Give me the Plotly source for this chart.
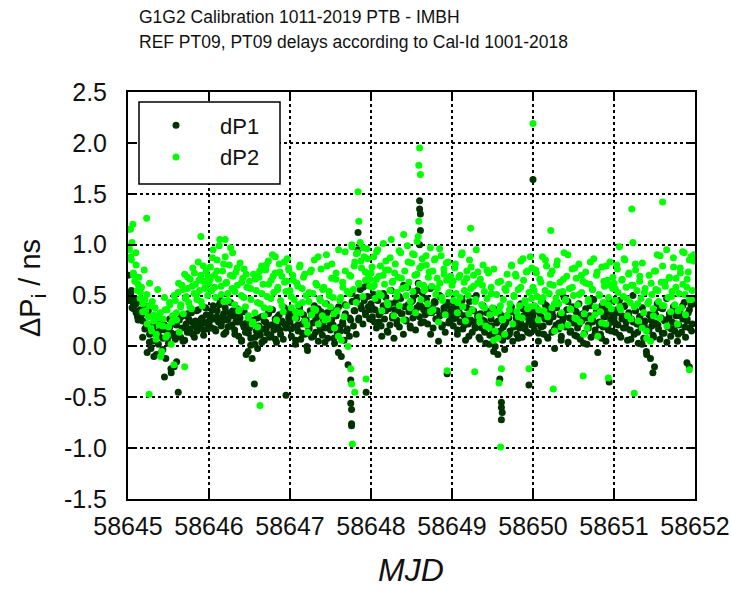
import plotly.graph_objects as go

# ---------------- data ----------------
START_MJD = 58645

# bulk values, layer A: 60 epochs per day (one list per day)
dp1_days = [
    [0.70, 0.45, 0.52, 0.38, 0.41, 0.47, 0.33, 0.29, 0.44, 0.36,
     0.31, 0.25, 0.40, 0.18, 0.22, 0.35, 0.12, -0.02, 0.05, 0.20,
     0.14, -0.08, 0.28, 0.10, 0.16, -0.05, 0.08, 0.21, -0.12, 0.15,
     0.03, 0.19, -0.26, 0.11, 0.24, 0.07, -0.15, 0.13, 0.26, 0.09,
     0.18, 0.30, 0.06, 0.22, 0.14, 0.27, 0.17, 0.33, 0.12, 0.20,
     0.25, 0.15, 0.36, 0.21, 0.19, 0.28, 0.11, 0.23, 0.31, 0.17],
    [0.22, 0.31, 0.18, 0.40, 0.27, 0.15, 0.35, 0.24, 0.46, 0.20,
     0.29, 0.12, 0.38, 0.26, 0.19, 0.33, 0.43, 0.21, 0.30, 0.16,
     0.25, 0.37, 0.10, 0.28, 0.05, 0.22, 0.34, 0.14, 0.23, -0.05,
     0.18, 0.08, -0.12, 0.26, 0.02, 0.15, -0.02, 0.20, 0.11, 0.29,
     0.17, 0.06, 0.24, 0.13, 0.32, 0.09, 0.21, 0.36, 0.16, 0.27,
     0.04, 0.19, 0.31, 0.12, 0.25, 0.07, 0.22, 0.18, 0.34, 0.28],
    [0.24, 0.10, 0.33, 0.19, 0.02, 0.28, 0.15, 0.38, 0.07, 0.22,
     0.31, 0.12, 0.26, -0.04, 0.17, 0.35, 0.09, 0.23, 0.40, 0.14,
     0.29, 0.05, 0.20, 0.34, 0.11, 0.27, 0.18, 0.42, 0.08, 0.25,
     0.16, 0.36, 0.21, 0.03, 0.30, 0.13, 0.39, 0.19, -0.10, 0.24,
     0.06, 0.32, 0.15, -0.18, 0.10, 0.26, 0.44, 0.20, 0.35, 0.12,
     0.48, 0.28, 0.56, 0.37, 0.22, 0.45, 0.31, 0.60, 0.39, 0.27],
    [0.42, 0.29, 0.51, 0.36, 0.18, 0.45, 0.24, 0.33, 0.10, 0.40,
     0.27, 0.48, 0.15, 0.37, 0.21, 0.55, 0.30, 0.08, 0.43, 0.26,
     0.35, 0.19, 0.47, 0.32, 0.12, 0.39, 0.25, 0.58, 0.34, 0.20,
     0.44, 0.28, 0.50, 0.16, 0.38, 0.62, 0.41, 0.23, 0.53, 0.36,
     0.31, 0.46, 0.22, 0.40, 0.57, 0.33, 0.18, 0.44, 0.27, 0.35,
     0.05, 0.30, 0.48, 0.21, 0.38, 0.14, 0.32, 0.43, 0.25, 0.37],
    [0.33, 0.20, 0.41, 0.28, 0.12, 0.36, 0.24, 0.47, 0.17, 0.30,
     0.06, 0.38, 0.22, 0.44, 0.26, 0.14, 0.35, 0.19, 0.50, 0.29,
     0.09, 0.32, 0.18, 0.40, 0.25, 0.03, 0.21, 0.34, 0.11, 0.27,
     0.16, 0.37, 0.00, 0.23, -0.08, 0.13, 0.31, 0.07, 0.19, -0.03,
     0.24, 0.10, 0.28, 0.15, 0.39, 0.05, 0.22, 0.33, 0.12, 0.26,
     0.18, 0.42, 0.09, 0.30, 0.20, 0.35, 0.14, 0.25, 0.38, 0.21],
    [0.30, 0.16, 0.38, 0.22, 0.05, 0.33, 0.19, 0.45, 0.12, 0.27,
     0.40, 0.08, 0.24, 0.35, 0.14, 0.29, -0.02, 0.21, 0.43, 0.17,
     0.31, 0.10, 0.26, 0.48, 0.20, 0.36, 0.04, 0.28, 0.15, 0.39,
     0.23, 0.11, 0.34, 0.18, 0.42, 0.07, 0.25, 0.32, 0.13, 0.37,
     0.02, 0.21, 0.30, 0.09, 0.27, 0.46, 0.16, 0.35, -0.06, 0.24,
     0.12, 0.40, 0.19, 0.29, 0.05, 0.33, 0.22, 0.44, 0.15, 0.26],
    [0.28, 0.14, 0.36, 0.21, 0.45, 0.09, 0.30, 0.18, 0.40, 0.24,
     0.06, 0.33, 0.16, 0.27, 0.50, 0.12, 0.35, 0.22, 0.03, 0.29,
     0.19, 0.38, 0.08, 0.25, -0.05, 0.15, 0.31, -0.12, 0.20, 0.11,
     0.34, 0.23, 0.42, 0.17, 0.07, 0.28, 0.37, 0.13, 0.26, 0.47,
     0.19, 0.32, 0.10, 0.24, 0.39, 0.15, 0.30, 0.05, 0.21, 0.36,
     0.14, 0.27, 0.43, 0.09, 0.25, 0.33, 0.18, 0.41, 0.22, 0.46],
]

dp2_days = [
    [1.15, 0.95, 0.88, 1.02, 0.72, 0.64, 0.80, 0.55, 0.68, 0.47,
     0.58, 0.42, 0.75, 0.35, 0.51, 0.29, 0.62, 0.18, 0.44, 0.25,
     0.38, 0.12, 0.56, 0.21, 0.33, -0.05, 0.27, 0.48, 0.09, 0.36,
     0.19, 0.41, 0.02, 0.30, -0.18, 0.45, 0.26, 0.53, 0.14, 0.39,
     0.60, 0.32, 0.71, 0.49, 0.57, 0.43, 0.66, 0.37, 0.77, 0.52,
     0.61, 0.46, 0.83, 0.55, 0.70, 0.40, 0.64, 0.58, 0.74, 0.50],
    [0.62, 0.78, 0.55, 0.95, 0.70, 0.48, 0.85, 0.66, 1.05, 0.59,
     0.74, 0.44, 0.88, 0.63, 0.52, 0.80, 0.97, 0.57, 0.69, 0.41,
     0.73, 0.60, 0.35, 0.82, 0.50, 0.67, 0.76, 0.39, 0.58, 0.28,
     0.64, 0.46, 0.22, 0.71, 0.33, 0.55, 0.19, 0.68, 0.42, 0.79,
     0.61, 0.30, 0.75, 0.49, 0.84, 0.37, 0.65, 0.90, 0.53, 0.72,
     0.26, 0.58, 0.81, 0.45, 0.69, 0.34, 0.63, 0.54, 0.86, 0.77],
    [0.55, 0.38, 0.70, 0.46, 0.28, 0.62, 0.41, 0.78, 0.33, 0.57,
     0.68, 0.25, 0.50, 0.14, 0.44, 0.73, 0.31, 0.52, 0.85, 0.36,
     0.60, 0.22, 0.47, 0.76, 0.30, 0.58, 0.42, 0.90, 0.27, 0.54,
     0.39, 0.81, 0.48, 0.18, 0.66, 0.35, 0.95, 0.45, 0.06, 0.63,
     0.29, 0.74, 0.40, 0.00, 0.52, 0.69, 0.98, 0.56, 0.83, 0.43,
     0.92, 0.61, 1.02, 0.77, 0.49, 0.88, 0.65, 0.96, 0.71, 0.59],
    [0.72, 0.58, 0.88, 0.47, 0.66, 0.95, 0.52, 0.79, 0.35, 0.70,
     0.61, 0.84, 0.43, 0.75, 0.55, 1.05, 0.64, 0.30, 0.81, 0.49,
     0.68, 0.40, 0.92, 0.57, 0.26, 0.74, 0.50, 0.99, 0.63, 0.38,
     0.82, 0.54, 0.90, 0.33, 0.71, 1.08, 0.77, 0.46, 0.86, 0.60,
     0.56, 0.80, 0.42, 0.73, 0.97, 0.59, 0.36, 0.85, 0.51, 0.67,
     0.24, 0.62, 0.89, 0.45, 0.76, 0.31, 0.65, 0.83, 0.53, 0.69],
    [0.60, 0.45, 0.77, 0.52, 0.33, 0.68, 0.48, 0.90, 0.39, 0.63,
     0.25, 0.74, 0.50, 0.85, 0.57, 0.36, 0.70, 0.44, 0.95, 0.62,
     0.29, 0.66, 0.41, 0.80, 0.54, 0.20, 0.47, 0.72, 0.31, 0.58,
     0.38, 0.76, 0.15, 0.51, 0.08, 0.35, 0.64, 0.27, 0.46, 0.12,
     0.55, 0.30, 0.61, 0.42, 0.79, 0.22, 0.49, 0.71, 0.34, 0.56,
     0.40, 0.84, 0.28, 0.65, 0.43, 0.73, 0.37, 0.53, 0.88, 0.47],
    [0.58, 0.40, 0.75, 0.49, 0.26, 0.66, 0.44, 0.88, 0.35, 0.55,
     0.79, 0.30, 0.52, 0.71, 0.38, 0.60, 0.15, 0.47, 0.84, 0.42,
     0.63, 0.33, 0.54, 0.92, 0.45, 0.69, 0.21, 0.57, 0.36, 0.76,
     0.50, 0.28, 0.67, 0.41, 0.81, 0.24, 0.53, 0.64, 0.32, 0.73,
     0.18, 0.46, 0.61, 0.27, 0.56, 0.86, 0.39, 0.70, 0.10, 0.51,
     0.34, 0.78, 0.43, 0.59, 0.22, 0.65, 0.48, 0.83, 0.37, 0.57],
    [0.62, 0.45, 0.80, 0.53, 0.98, 0.36, 0.66, 0.49, 0.85, 0.58,
     0.30, 0.72, 0.43, 0.60, 1.02, 0.39, 0.75, 0.55, 0.25, 0.64,
     0.47, 0.82, 0.33, 0.57, 0.15, 0.42, 0.70, 0.05, 0.51, 0.37,
     0.74, 0.56, 0.90, 0.44, 0.28, 0.63, 0.79, 0.40, 0.59, 0.95,
     0.48, 0.68, 0.34, 0.54, 0.87, 0.41, 0.67, 0.22, 0.52, 0.77,
     0.38, 0.61, 0.92, 0.31, 0.58, 0.73, 0.46, 0.88, 0.55, 0.84],
]

# bulk values, layer B: 36 further epochs per day (other satellites)
dp1_days_b = [
    [0.48, 0.55, 0.37, 0.42, 0.26, 0.30, 0.09, 0.17, -0.06, 0.04, 0.19, -0.10,
     0.12, 0.02, 0.23, -0.03, 0.16, 0.08, 0.27, 0.13, -0.20, 0.21, 0.10, 0.29,
     0.05, 0.18, 0.32, 0.14, 0.24, 0.09, 0.35, 0.20, 0.27, 0.16, 0.38, 0.24],
    [0.26, 0.36, 0.17, 0.29, 0.41, 0.23, 0.32, 0.14, 0.27, 0.20, 0.35, 0.12,
     0.24, 0.30, 0.06, 0.19, -0.08, 0.13, 0.01, 0.22, 0.09, 0.28, 0.15, 0.04,
     0.25, 0.18, 0.33, 0.11, 0.21, 0.07, 0.29, 0.16, 0.24, 0.38, 0.20, 0.31],
    [0.17, 0.29, 0.06, 0.21, 0.34, 0.13, 0.25, 0.00, 0.18, 0.31, 0.10, 0.27,
     0.37, 0.16, 0.23, 0.04, 0.33, 0.19, 0.26, 0.08, 0.30, -0.06, 0.15, 0.22,
     0.41, 0.17, 0.28, 0.52, 0.35, 0.46, 0.26, 0.40, 0.58, 0.33, 0.49, 0.36],
    [0.38, 0.24, 0.46, 0.31, 0.20, 0.52, 0.35, 0.14, 0.42, 0.28, 0.36, 0.22,
     0.49, 0.32, 0.60, 0.26, 0.41, 0.18, 0.45, 0.34, 0.55, 0.29, 0.39, 0.24,
     0.47, 0.33, 0.12, 0.37, 0.43, 0.27, 0.50, 0.19, 0.34, 0.40, 0.23, 0.31],
    [0.27, 0.39, 0.16, 0.32, 0.45, 0.21, 0.29, 0.10, 0.36, 0.24, 0.18, 0.31,
     0.07, 0.26, 0.14, 0.33, 0.02, 0.20, -0.05, 0.11, 0.25, 0.15, 0.06, 0.22,
     0.30, 0.12, 0.34, 0.19, 0.28, 0.08, 0.23, 0.37, 0.17, 0.29, 0.13, 0.32],
    [0.25, 0.35, 0.13, 0.29, 0.20, 0.41, 0.09, 0.27, 0.33, 0.17, 0.38, 0.23,
     0.06, 0.30, 0.19, 0.44, 0.14, 0.26, 0.36, 0.10, 0.22, 0.31, 0.03, 0.28,
     0.18, 0.40, 0.24, 0.12, 0.34, 0.21, 0.08, 0.29, 0.37, 0.16, 0.27, 0.32],
    [0.23, 0.33, 0.11, 0.27, 0.39, 0.18, 0.30, 0.07, 0.24, 0.35, 0.14, 0.29,
     0.02, 0.20, -0.08, 0.16, 0.26, 0.09, 0.31, 0.21, 0.38, 0.13, 0.25, 0.04,
     0.28, 0.17, 0.34, 0.22, 0.12, 0.30, 0.40, 0.19, 0.27, 0.36, 0.15, 0.42],
]

dp2_days_b = [
    [0.98, 0.85, 0.70, 0.92, 0.61, 0.53, 0.34, 0.46, 0.22, 0.40, 0.15, 0.31,
     0.07, 0.28, -0.10, 0.20, 0.36, 0.11, 0.43, 0.24, 0.50, 0.33, 0.62, 0.41,
     0.56, 0.47, 0.68, 0.39, 0.59, 0.72, 0.51, 0.65, 0.44, 0.79, 0.57, 0.69],
    [0.66, 0.87, 0.58, 0.74, 0.99, 0.51, 0.81, 0.62, 0.45, 0.70, 0.92, 0.54,
     0.77, 0.36, 0.63, 0.48, 0.71, 0.30, 0.57, 0.24, 0.66, 0.43, 0.74, 0.52,
     0.38, 0.80, 0.61, 0.47, 0.69, 0.88, 0.56, 0.73, 0.40, 0.83, 0.64, 0.75],
    [0.49, 0.65, 0.34, 0.59, 0.80, 0.43, 0.71, 0.21, 0.53, 0.75, 0.37, 0.62,
     0.88, 0.45, 0.56, 0.26, 0.79, 0.50, 0.67, 0.32, 0.72, 0.10, 0.48, 0.58,
     0.93, 0.54, 0.70, 1.00, 0.79, 0.91, 0.62, 0.84, 0.97, 0.73, 0.86, 0.66],
    [0.78, 0.60, 0.93, 0.69, 0.50, 1.01, 0.75, 0.41, 0.87, 0.63, 0.72, 0.53,
     0.94, 0.67, 1.10, 0.58, 0.83, 0.44, 0.91, 0.70, 1.03, 0.61, 0.79, 0.55,
     0.89, 0.68, 0.34, 0.74, 0.86, 0.57, 0.96, 0.48, 0.71, 0.82, 0.52, 0.65],
    [0.64, 0.81, 0.43, 0.70, 0.92, 0.55, 0.67, 0.32, 0.78, 0.59, 0.46, 0.73,
     0.24, 0.60, 0.38, 0.75, 0.18, 0.52, 0.06, 0.33, 0.63, 0.40, 0.26, 0.57,
     0.71, 0.36, 0.80, 0.50, 0.69, 0.29, 0.58, 0.86, 0.45, 0.74, 0.39, 0.77],
    [0.55, 0.72, 0.36, 0.63, 0.48, 0.85, 0.29, 0.61, 0.74, 0.42, 0.80, 0.53,
     0.19, 0.66, 0.46, 0.90, 0.37, 0.58, 0.77, 0.27, 0.51, 0.70, 0.12, 0.62,
     0.44, 0.83, 0.56, 0.31, 0.73, 0.50, 0.23, 0.64, 0.79, 0.41, 0.60, 0.68],
    [0.57, 0.76, 0.39, 0.65, 0.86, 0.47, 0.71, 0.27, 0.60, 0.81, 0.42, 0.69,
     0.18, 0.53, 0.08, 0.44, 0.62, 0.30, 0.74, 0.55, 0.89, 0.40, 0.63, 0.20,
     0.67, 0.49, 0.78, 0.58, 0.35, 0.72, 0.93, 0.51, 0.66, 0.85, 0.46, 0.90],
]

# additional tracks (outliers / bursts) with explicit epochs
dp1_extra_mjd = [58645.45, 58645.53, 58645.62, 58646.56, 58646.95,
                 58647.75, 58647.75, 58647.76, 58647.76, 58647.76,
                 58647.84, 58647.84, 58647.94,
                 58648.60, 58648.60, 58648.61, 58648.61, 58648.60,
                 58648.94, 58649.59, 58649.61, 58649.61, 58649.62, 58649.61,
                 58649.95, 58650.00, 58650.02, 58650.94,
                 58651.48, 58651.50, 58651.90, 58651.93]
dp1_extra_val = [-0.30, -0.22, -0.45, -0.37, -0.48,
                 -0.33, -0.56, -0.62, -0.76, -0.78,
                 1.12, 0.95, -0.45,
                 1.43, 1.35, 1.30, 1.14, 1.00,
                 -0.27, -0.32, -0.55, -0.60, -0.65, -0.72,
                 -0.38, 1.64, -0.17, -0.35,
                 -0.26, -0.20, -0.16, -0.20]

dp2_extra_mjd = [58645.03, 58645.06, 58645.23, 58645.26, 58645.70, 58645.90,
                 58646.20, 58646.63,
                 58647.75, 58647.76, 58647.77, 58647.80,
                 58647.84, 58647.85, 58647.94,
                 58648.60, 58648.59, 58648.61, 58648.59,
                 58648.94, 58649.23, 58649.28,
                 58649.58, 58649.60, 58649.61, 58649.95,
                 58650.00, 58650.22, 58650.25, 58650.62, 58650.93,
                 58651.22, 58651.25, 58651.60, 58651.93]
dp2_extra_val = [1.15, 1.20, 1.26, -0.47, -0.20, 1.08,
                 1.05, -0.58,
                 -0.22, -0.37, -0.96, -0.45,
                 1.52, 1.23, -0.32,
                 1.95, 1.78, 1.69, 1.23,
                 -0.24, 1.16, -0.25,
                 -0.36, -0.99, -0.22, -0.22,
                 2.19, 1.14, -0.42, -0.29, -0.31,
                 1.35, -0.46, 1.42, -0.23]

y_tick_vals = [2.5, 2.0, 1.5, 1.0, 0.5, 0.0, -0.5, -1.0, -1.5]
y_tick_text = ["2.5", "2.0", "1.5", "1.0", "0.5", "0.0", "-0.5", "-1.0", "-1.5"]
x_tick_vals = [58645, 58646, 58647, 58648, 58649, 58650, 58651, 58652]
x_tick_text = ["58645", "58646", "58647", "58648", "58649", "58650", "58651", "58652"]


def flatten(layers, extra_mjd, extra_val):
    xs, ys = [], []
    for days, offset in layers:
        for d, vals in enumerate(days):
            n = len(vals)
            for i, v in enumerate(vals):
                xs.append(START_MJD + d + (i + offset) / n)
                ys.append(v)
    xs += extra_mjd
    ys += extra_val
    return xs, ys


x1, y1 = flatten([(dp1_days, 0.0), (dp1_days_b, 0.5)], dp1_extra_mjd, dp1_extra_val)
x2, y2 = flatten([(dp2_days, 0.0), (dp2_days_b, 0.5)], dp2_extra_mjd, dp2_extra_val)

FONT = "Liberation Sans, Arial, sans-serif"
TXT = "#111111"

# plot-area geometry (pixels)
L, R, T, B = 128, 695, 92, 499
W, H = 731, 590
PW, PH = R - L, B - T


def px(xp):
    return (xp - L) / PW


def py(yp):
    return (B - yp) / PH


fig = go.Figure()
fig.add_trace(go.Scatter(x=x1, y=y1, mode="markers", name="dP1",
                         marker=dict(color="#003300", size=7, line=dict(width=0))))
fig.add_trace(go.Scatter(x=x2, y=y2, mode="markers", name="dP2",
                         marker=dict(color="#00ff00", size=7, line=dict(width=0))))

axis_common = dict(
    showline=True, linecolor="black", linewidth=2, mirror="ticks",
    ticks="inside", ticklen=9, tickwidth=2, tickcolor="black",
    showgrid=True, gridcolor="black", gridwidth=1.5, griddash="dot",
    zeroline=False, automargin=False,
    tickfont=dict(family=FONT, size=25, color=TXT),
)

fig.update_layout(
    width=W, height=H,
    margin=dict(l=L, r=W - R, t=T, b=H - B, autoexpand=False),
    paper_bgcolor="white", plot_bgcolor="white",
    font=dict(family=FONT, color=TXT),
    showlegend=True,
    legend=dict(x=px(132), y=py(104.5), xanchor="left", yanchor="top",
                bgcolor="rgba(0,0,0,0)", borderwidth=0,
                font=dict(family=FONT, size=22, color=TXT),
                itemwidth=78, itemsizing="trace", tracegroupgap=0),
    shapes=[dict(type="rect", xref="paper", yref="paper",
                 x0=px(139), x1=px(280), y0=py(184), y1=py(102),
                 line=dict(color="black", width=1.5), fillcolor="white", layer="above")],
    xaxis=dict(axis_common, range=[58645, 58652], tickvals=x_tick_vals,
               ticktext=x_tick_text, ticklabelstandoff=4),
    yaxis=dict(axis_common, range=[-1.5, 2.5], tickvals=y_tick_vals,
               ticktext=y_tick_text, ticklabelstandoff=14),
    annotations=[
        dict(text="G1G2 Calibration 1011-2019 PTB - IMBH", xref="paper", yref="paper",
             x=px(137), y=py(17), xanchor="left", yanchor="middle", showarrow=False,
             font=dict(family=FONT, size=17.5, color=TXT)),
        dict(text="REF PT09, PT09 delays according to Cal-Id 1001-2018", xref="paper", yref="paper",
             x=px(137), y=py(42), xanchor="left", yanchor="middle", showarrow=False,
             font=dict(family=FONT, size=17.5, color=TXT)),
        dict(text="<i>MJD</i>", xref="paper", yref="paper",
             x=px(411), y=py(570), xanchor="center", yanchor="middle", showarrow=False,
             font=dict(family=FONT, size=32, color=TXT)),
        dict(text="ΔP<sub>i</sub> / ns", xref="paper", yref="paper", textangle=-90,
             x=px(32), y=py(288), xanchor="center", yanchor="middle", showarrow=False,
             font=dict(family=FONT, size=29, color=TXT)),
    ],
)

fig.write_html("out.html")
